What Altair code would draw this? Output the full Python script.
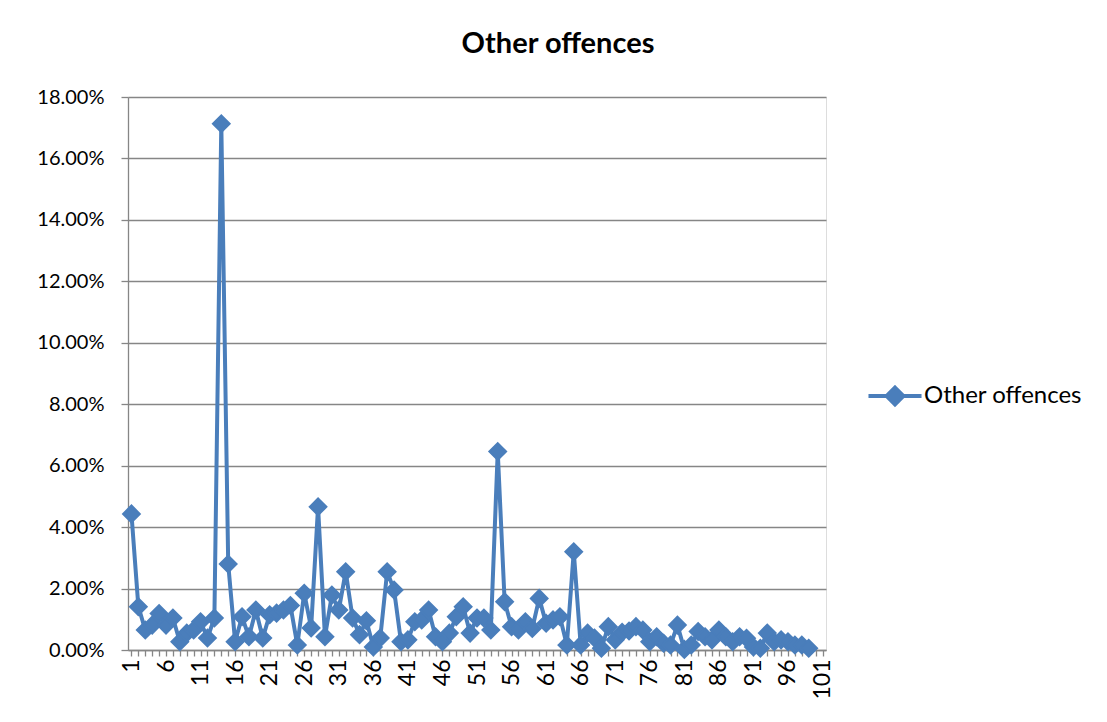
import altair as alt
import pandas as pd

idx = list(range(1, 100))
values_pct = [
    4.43, 1.41, 0.65, 0.81, 1.19, 0.81, 1.04, 0.27, 0.55, 0.65,
    0.92, 0.39, 1.04, 17.13, 2.80, 0.27, 1.08, 0.43, 1.30, 0.39,
    1.15, 1.20, 1.30, 1.45, 0.16, 1.85, 0.72, 4.66, 0.43, 1.79,
    1.30, 2.55, 1.04, 0.50, 0.95, 0.10, 0.39, 2.55, 1.95, 0.27,
    0.33, 0.92, 0.98, 1.30, 0.43, 0.27, 0.55, 1.08, 1.41, 0.55,
    1.04, 1.04, 0.65, 6.46, 1.57, 0.76, 0.65, 0.92, 0.70, 1.68,
    0.87, 0.98, 1.08, 0.16, 3.20, 0.16, 0.55, 0.39, 0.06, 0.76,
    0.33, 0.58, 0.62, 0.76, 0.65, 0.27, 0.43, 0.22, 0.16, 0.81,
    0.02, 0.16, 0.60, 0.43, 0.33, 0.65, 0.43, 0.27, 0.43, 0.38,
    0.10, 0.06, 0.55, 0.27, 0.33, 0.27, 0.16, 0.16, 0.06,
]
series_name = "Other offences"
x_ticks = list(range(1, 102))
y_ticks = [i / 100 for i in range(0, 19, 2)]

df = pd.DataFrame({
    "idx": idx,
    "value": [v / 100 for v in values_pct],
    "series": [series_name] * len(idx),
})

BLUE = "#4A7EBB"
GRID = "#868686"
FONT = "Lato"
MSIZE = 280

x_enc = alt.X(
    "idx:Q",
    scale=alt.Scale(domain=[0.5, 101.5], nice=False, zero=False),
    axis=alt.Axis(
        title=None, values=x_ticks,
        labelExpr="(datum.value - 1) % 5 == 0 ? datum.label : ''",
        labelAngle=-90, labelAlign="right", labelBaseline="middle",
        labelPadding=3, tickSize=6, grid=False,
        domainColor=GRID, tickColor=GRID, domainWidth=1.3, tickWidth=1.3,
        labelFont=FONT, labelFontSize=23, labelColor="black",
        labelOverlap=False, labelFlush=False,
    ),
)
y_enc = alt.Y(
    "value:Q",
    scale=alt.Scale(domain=[0, 0.18], nice=False),
    axis=alt.Axis(
        title=None, values=y_ticks, format=".2%",
        tickSize=7, labelPadding=17, grid=True,
        gridColor=GRID, gridWidth=1.3, domainColor=GRID, tickColor=GRID,
        domainWidth=1.3, tickWidth=1.3,
        labelFont=FONT, labelFontSize=20, labelColor="black",
    ),
)

line = alt.Chart(df).mark_line(color=BLUE, strokeWidth=4).encode(x=x_enc, y=y_enc)

points = alt.Chart(df).mark_point(
    shape="diamond", filled=True, size=MSIZE, opacity=1,
    stroke=BLUE, strokeWidth=2,
).encode(
    x=x_enc, y=y_enc,
    color=alt.Color(
        "series:N",
        scale=alt.Scale(range=[BLUE]),
        legend=alt.Legend(
            title=None, orient="none", legendX=755, legendY=287,
            padding=0,
            symbolType="M-3.17,0L3.17,0M0,-1L1,0L0,1L-1,0Z",
            symbolSize=MSIZE, symbolStrokeWidth=4,
            symbolStrokeColor=BLUE, symbolFillColor=BLUE,
            labelOffset=17, labelFont=FONT, labelFontSize=24,
            labelColor="black",
        ),
    ),
)

chart = alt.layer(line, points).properties(
    width=698, height=553,
    autosize=alt.AutoSizeParams(type="none"),
    padding={"left": 120, "top": 89, "right": 273, "bottom": 58},
    title=alt.TitleParams(
        text="Other offences", anchor="middle", dx=81, offset=28,
        font=FONT, fontSize=29, fontWeight="bold", color="black",
    ),
).configure_view(stroke=None).configure(background="white")

chart.save("out.html", embed_options={"renderer": "svg", "actions": False})
